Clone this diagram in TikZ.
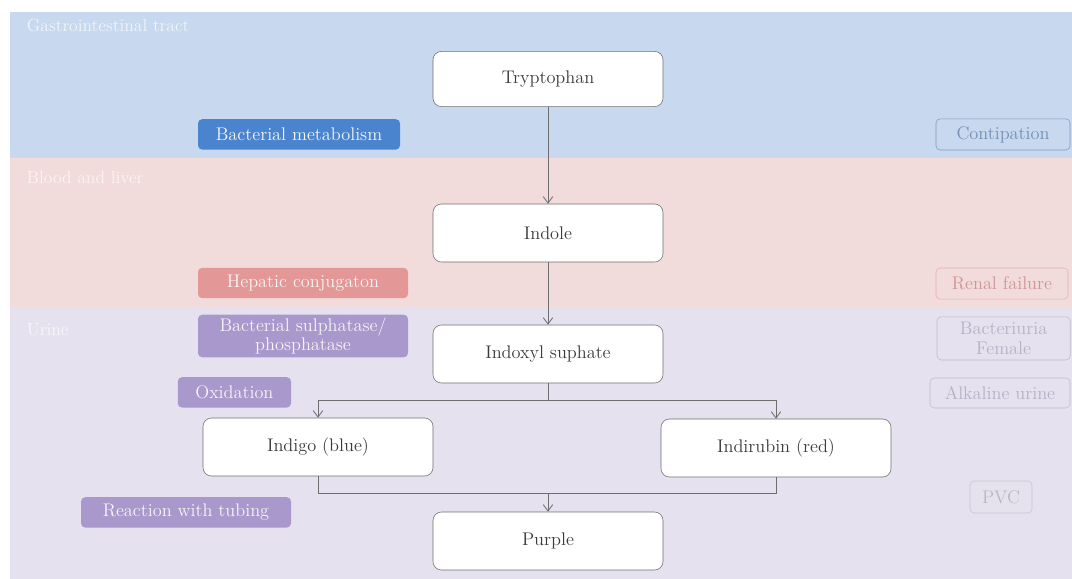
\documentclass[tikz,border=0pt]{standalone}
\usepackage{xcolor}
\usepackage{tikz}
\usetikzlibrary{arrows.meta, positioning}
\definecolor{faixaazul}{HTML}{C7D8EF}
\definecolor{faixarosa}{HTML}{F2DBDB}
\definecolor{faixalilas}{HTML}{E6E1EF}
\definecolor{azulforte}{HTML}{4A84CF}
\definecolor{rosaforte}{HTML}{E08C8C}
\definecolor{lilasforte}{HTML}{A898CC}
\definecolor{cinzaseta}{HTML}{6E6E6E}
\definecolor{textoetapa}{HTML}{3A3A3A}

\begin{document}
\begin{tikzpicture}[
    etapa/.style={draw=cinzaseta, fill=white, rounded corners=6pt, minimum width=5.75cm,
                  minimum height=1.45cm, align=center, text=textoetapa,
                  font=\fontsize{13}{15}\selectfont},
    processo/.style={rounded corners=3pt, minimum height=0.76cm, align=center, text=white!92!gray,
                     inner sep=2pt, font=\fontsize{13}{14}\selectfont},
    fator/.style={draw, rounded corners=3pt, minimum height=0.78cm, align=center,
                  inner sep=2pt, font=\fontsize{13}{14}\selectfont},
    faixa/.style={anchor=west, font=\fontsize{12.5}{14}\selectfont},
    seta/.style={-{Straight Barb[length=1.6mm, width=2.4mm]}, cinzaseta, semithick}
]
    \useasboundingbox[fill=white] (0,0) rectangle (26.8,-14.475);

    % faixas
    \fill[faixaazul] (0.25,-0.3) rectangle (26.8,-3.95);
    \fill[faixarosa] (0.25,-3.95) rectangle (26.8,-7.675);
    \fill[faixalilas] (0.25,-7.675) rectangle (26.8,-14.475);
    \node[faixa, text=white!75!faixaazul] (gi) at (0.55,-0.65) {Gastrointestinal tract};
    \node[faixa, text=white!70!faixarosa] (sangue) at (0.55,-4.43) {Blood and liver};
    \node[faixa, text=white!70!faixalilas] (urina) at (0.55,-8.25) {Urine};

    % etapas
    \node[etapa, minimum height=1.38cm] (trp) at (13.7,-1.975) {Tryptophan};
    \node[etapa] (indole) at (13.7,-5.825) {Indole};
    \node[etapa] (indoxyl) at (13.7,-8.85) {Indoxyl suphate};
    \node[etapa] (indigo) at (7.95,-11.175) {Indigo (blue)};
    \node[etapa] (indirubin) at (19.4,-11.2) {Indirubin (red)};
    \node[etapa] (purple) at (13.7,-13.525) {Purple};

    % processos
    \node[processo, fill=azulforte, minimum width=5.05cm] (metab) at (7.475,-3.36) {Bacterial metabolism};
    \node[processo, fill=rosaforte!90, minimum width=5.25cm] (conj) at (7.575,-7.075) {Hepatic conjugaton};
    \node[processo, fill=lilasforte, minimum width=5.25cm, minimum height=1.05cm] (sulf) at (7.575,-8.4) {Bacterial sulphatase/\\phosphatase};
    \node[processo, fill=lilasforte, minimum width=2.83cm] (oxid) at (5.86,-9.81) {Oxidation};
    \node[processo, fill=lilasforte, minimum width=5.25cm] (tubo) at (4.65,-12.81) {Reaction with tubing};

    % fatores
    \node[fator, draw=azulforte!55!gray!80, text=azulforte!55!gray!90, minimum width=3.35cm] (const) at (25.075,-3.36) {Contipation};
    \node[fator, draw=rosaforte!70, text=rosaforte!75!gray!90, minimum width=3.3cm] (renal) at (25.05,-7.09) {Renal failure};
    \node[fator, draw=lilasforte!60!gray!60, text=lilasforte!60!gray!70, minimum width=3.33cm, minimum height=1.08cm] (bact) at (25.09,-8.46) {Bacteriuria\\Female};
    \node[fator, draw=lilasforte!60!gray!60, text=lilasforte!60!gray!70, minimum width=3.5cm, minimum height=0.75cm] (alcal) at (25.0,-9.825) {Alkaline urine};
    \node[fator, draw=gray!45, text=gray!55, minimum width=1.55cm, minimum height=0.8cm] (pvc) at (25.025,-12.425) {PVC};

    % ligacoes
    \draw[seta] (trp) -- (indole);
    \draw[seta] (indole) -- (indoxyl);
    \coordinate[below=0.43cm of indoxyl] (div);
    \coordinate[above=0.45cm of purple] (junta);
    \draw[cinzaseta, semithick] (indoxyl) -- (div);
    \draw[seta] (div) -| (indigo);
    \draw[seta] (div) -| (indirubin);
    \draw[cinzaseta, semithick] (indigo) |- (junta);
    \draw[cinzaseta, semithick] (indirubin) |- (junta);
    \draw[seta] (junta) -- (purple);
\end{tikzpicture}
\end{document}
